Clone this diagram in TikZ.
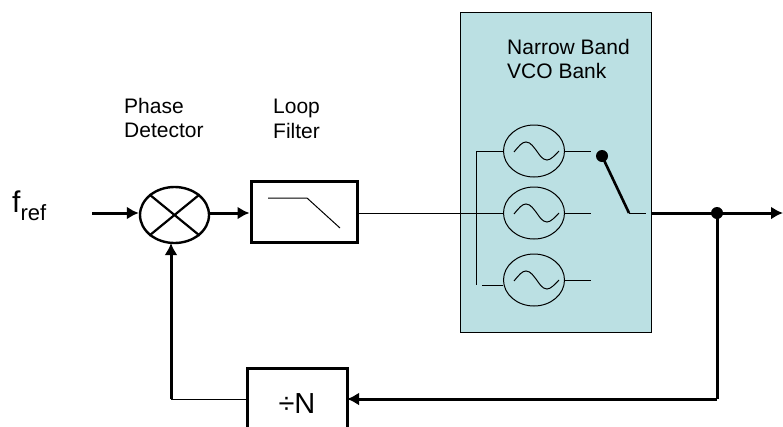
\documentclass[tikz,border=0pt]{standalone}
\usepackage{fontspec}
\setmainfont{Liberation Sans}
\usetikzlibrary{arrows.meta,shapes.geometric}
\definecolor{bankblue}{HTML}{BBE0E3}
\begin{document}
\begin{tikzpicture}[x=1pt,y=-1pt,
        wire/.style={line width=1pt},
        bus/.style={line width=3pt},
        feed/.style={bus,-{Latex[length=12pt,width=13pt]}},
        vco/.style={draw,wire,ellipse,minimum width=61pt,minimum height=52pt,inner sep=0pt},
        blocktext/.style={anchor=north west,align=left,inner sep=0pt,font=\fontsize{21}{24.5}\selectfont}]

    \useasboundingbox (0,0) rectangle (783,426);
    \clip (0,0) rectangle (783,426);

    % VCO bank background
    \node[draw,wire,fill=bankblue,minimum width=191pt,minimum height=320pt,inner sep=0pt] (bank) at (555.5,172) {};
    \node[blocktext] (banktext) at (507,39) {Narrow Band\\VCO Bank};

    % Phase detector and loop filter
    \node[draw,line width=2.4pt,ellipse,minimum width=69pt,minimum height=56pt,inner sep=0pt] (pd) at (174.5,215) {};
    \draw[line width=2.2pt] (pd.north west) -- (pd.south east);
    \draw[line width=2.2pt] (pd.north east) -- (pd.south west);
    \node[draw,bus,minimum width=106pt,minimum height=61pt,inner sep=0pt] (lf) at (304,211.5) {};
    \draw[wire] (268,198) -- (307,198) -- (340,228);
    \node[blocktext] (pdtext) at (124,98) {Phase\\Detector};
    \node[blocktext] (lftext) at (273,99) {Loop\\Filter};

    % Divider, cut off by the lower edge
    \node[draw,bus,minimum width=100pt,minimum height=72pt,inner sep=0pt,font=\fontsize{29}{32}\selectfont] (div) at (297,404) {\char"00F7 N};

    % Oscillators
    \node[vco] (vcoa) at (534,151) {};
    \node[vco] (vcob) at (534,213) {};
    \node[vco] (vcoc) at (534,280) {};
    \foreach \osc in {vcoa,vcob,vcoc}
        \draw[wire,shift={(\osc)}] (-20,1) .. controls (-15,-5) and (-12,-9) .. (-8,-9)
            .. controls (-3,-9) and (0,-3) .. (2,-1)
            .. controls (5,3) and (8,9) .. (13,9)
            .. controls (17,9) and (21,4) .. (25,0);

    \coordinate (busa) at (476,151);
    \coordinate (busc) at (476,285);
    \coordinate (stubc) at (482,285);
    \coordinate (enda) at (591,151);
    \coordinate (endb) at (591,213);
    \coordinate (endc) at (591,280);
    \coordinate (pivot) at (629,213);
    \coordinate (swout) at (646,213);
    \coordinate (bankout) at (651,213);
    \coordinate (tap) at (717,213);
    \coordinate (out) at (783,213);
    \coordinate (refin) at (92,213);
    \coordinate (corner) at (171,399);
    \coordinate (tapdown) at (717,399);
    \coordinate (lfout) at (357,213);
    \coordinate (vcobin) at (503.5,213);
    \coordinate (pdin) at (171,243);
    \coordinate (divin) at (347,399);
    \coordinate (divout) at (247,399);

    % Wiring inside the bank
    \draw[wire] (lfout) -- (vcobin);
    \draw[wire] (vcoa.west) -- (busa) -- (busc);
    \draw[wire] (stubc) -- (vcoc.west |- stubc);
    \draw[wire] (vcoa.east) -- (enda);
    \draw[wire] (vcob.east) -- (endb);
    \draw[wire] (vcoc.east) -- (endc);
    \draw[wire] (pivot) -- (swout);

    % Switch
    \coordinate (throw) at (602,156);
    \fill (throw) circle (6pt);
    \draw[line width=2.6pt] (throw) -- (pivot);

    % Signal path
    \draw[feed] (refin) -- (pd.west |- refin);
    \draw[feed] (pd.east |- refin) -- (lf.west |- refin);
    \draw[feed] (bankout) -- (out);
    \fill (tap) circle (6pt);
    \draw[bus] (tap) -- (tapdown);
    \draw[feed] (tapdown) -- (divin);
    \draw[wire] (divout) -- (corner);
    \draw[feed] (corner) -- (pdin);

    % Reference input
    \node[anchor=base west,inner sep=0pt,font=\fontsize{30}{32}\selectfont] (fref) at (12,212) {f\raisebox{-8pt}{\fontsize{22}{24}\selectfont ref}};
\end{tikzpicture}
\end{document}
